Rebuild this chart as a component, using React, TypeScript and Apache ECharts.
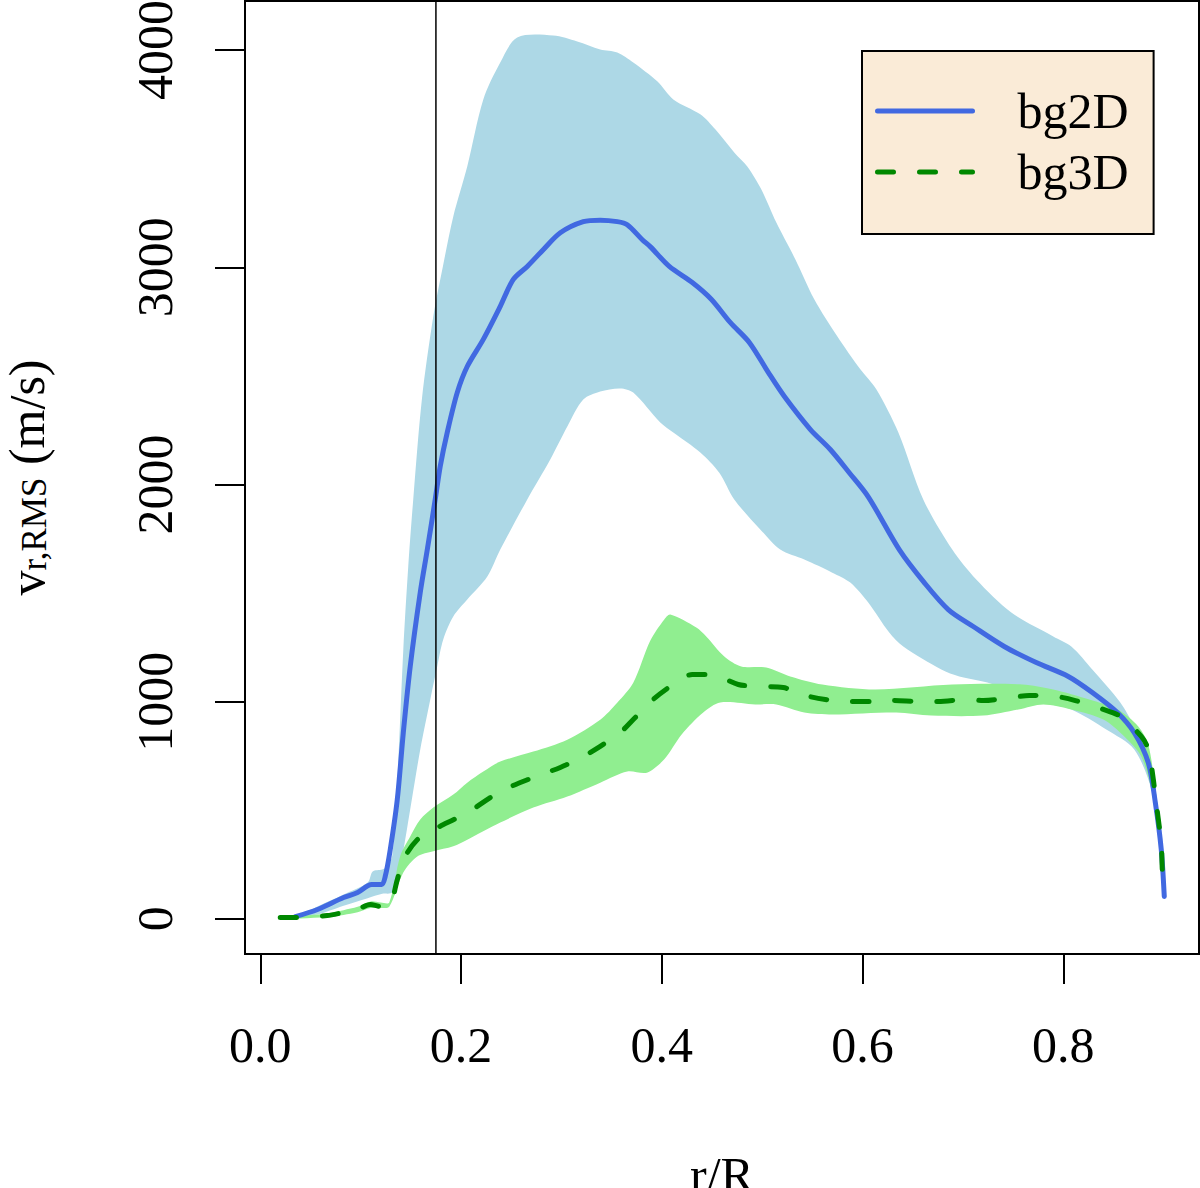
import React, { useEffect, useRef } from 'react';
import * as echarts from 'echarts';

const FONT = 'Liberation Serif';

// bg2D mean profile
const mean2DX = [0.035, 0.057, 0.083, 0.097, 0.111, 0.121, 0.1245, 0.1295, 0.1365, 0.1425, 0.1494, 0.1594, 0.1664, 0.1743, 0.1793, 0.1863, 0.1963, 0.2062, 0.2222, 0.2391, 0.2521, 0.266, 0.2819, 0.2989, 0.3218, 0.3387, 0.3557, 0.3656, 0.3806, 0.3885, 0.4075, 0.4304, 0.4493, 0.4682, 0.4872, 0.5061, 0.522, 0.5479, 0.5679, 0.5868, 0.6057, 0.6366, 0.6615, 0.6854, 0.7103, 0.7412, 0.7731, 0.805, 0.8289, 0.8538, 0.8707, 0.8847, 0.8917, 0.8976, 0.9006];
const mean2DY = [10, 43, 98, 121, 158, 158, 195, 319, 549, 857, 1162, 1503, 1700, 1931, 2084, 2240, 2424, 2543, 2668, 2820, 2944, 3004, 3081, 3159, 3210, 3217, 3210, 3196, 3127, 3095, 3004, 2930, 2853, 2746, 2654, 2516, 2406, 2254, 2161, 2054, 1943, 1700, 1548, 1424, 1346, 1254, 1180, 1116, 1042, 950, 857, 719, 535, 319, 103];

// bg2D spread (upper / lower edge)
const upper2DX = [0.035, 0.057, 0.083, 0.107, 0.112, 0.1215, 0.1265, 0.1315, 0.1365, 0.1425, 0.1474, 0.1524, 0.161, 0.1724, 0.182, 0.1923, 0.2062, 0.2222, 0.2391, 0.256, 0.2919, 0.3158, 0.3387, 0.3557, 0.3716, 0.3955, 0.4115, 0.4384, 0.4533, 0.4722, 0.4852, 0.4991, 0.514, 0.533, 0.5519, 0.5748, 0.5978, 0.6137, 0.6356, 0.6605, 0.6894, 0.7133, 0.7482, 0.79, 0.808, 0.8289, 0.8568, 0.8707, 0.8817, 0.8917, 0.8976, 0.9006];
const upper2DY = [10, 57, 112, 167, 218, 227, 241, 290, 627, 1239, 1620, 1931, 2391, 2774, 3005, 3234, 3464, 3773, 3943, 4058, 4067, 4040, 4003, 3989, 3943, 3856, 3773, 3704, 3635, 3529, 3464, 3359, 3207, 3037, 2853, 2682, 2530, 2438, 2240, 1931, 1700, 1562, 1410, 1300, 1254, 1148, 996, 886, 780, 570, 335, 103];
const lower2DX = [0.035, 0.057, 0.083, 0.107, 0.1215, 0.1315, 0.1395, 0.1494, 0.1594, 0.1694, 0.1763, 0.1823, 0.1923, 0.2062, 0.2262, 0.2391, 0.266, 0.2889, 0.3059, 0.3218, 0.3387, 0.3587, 0.3716, 0.3985, 0.4115, 0.4384, 0.4573, 0.4722, 0.4981, 0.518, 0.542, 0.5699, 0.5878, 0.6057, 0.6266, 0.6406, 0.6785, 0.6964, 0.7243, 0.7801, 0.808, 0.8428, 0.8707, 0.8887, 0.8976, 0.9006];
const lower2DY = [10, 20, 60, 95, 115, 122, 241, 504, 780, 1010, 1162, 1286, 1392, 1470, 1576, 1700, 1931, 2115, 2267, 2391, 2428, 2442, 2423, 2285, 2239, 2147, 2054, 1931, 1793, 1700, 1654, 1594, 1548, 1456, 1318, 1254, 1148, 1116, 1088, 996, 964, 872, 780, 580, 300, 103];

// bg3D mean profile
const mean3DX = [0.0199, 0.0398, 0.0667, 0.0827, 0.0966, 0.1096, 0.1195, 0.1285, 0.1365, 0.1425, 0.1564, 0.1724, 0.2062, 0.2391, 0.272, 0.2989, 0.3218, 0.3387, 0.3587, 0.3716, 0.3915, 0.4085, 0.4304, 0.4483, 0.4762, 0.4932, 0.521, 0.539, 0.5629, 0.5838, 0.6127, 0.6296, 0.6575, 0.6755, 0.7034, 0.7203, 0.7482, 0.7661, 0.794, 0.812, 0.8399, 0.8568, 0.8777, 0.8847, 0.8897, 0.8917, 0.8956, 0.8976, 0.8986, 0.9];
const mean3DY = [6, 6, 15, 29, 43, 66, 57, 61, 180, 272, 364, 410, 489, 586, 651, 697, 748, 794, 858, 918, 1010, 1070, 1125, 1125, 1079, 1070, 1065, 1033, 1010, 1001, 1001, 1005, 1001, 1001, 1010, 1005, 1019, 1028, 1023, 1005, 964, 932, 840, 780, 642, 564, 426, 352, 228, 130];

// bg3D spread (upper / lower edge)
const upper3DX = [0.0199, 0.04, 0.067, 0.083, 0.097, 0.11, 0.12, 0.1285, 0.1395, 0.1494, 0.1594, 0.1724, 0.1923, 0.2062, 0.2222, 0.2391, 0.272, 0.3059, 0.3387, 0.3556, 0.3716, 0.3885, 0.4025, 0.4085, 0.4344, 0.4443, 0.4623, 0.4792, 0.5041, 0.528, 0.5599, 0.6127, 0.6894, 0.7592, 0.79, 0.8259, 0.8538, 0.8747, 0.8847, 0.8917, 0.8976, 0.9];
const upper3DY = [6, 15, 25, 40, 55, 80, 75, 75, 290, 379, 457, 512, 572, 627, 678, 724, 770, 825, 917, 995, 1087, 1280, 1378, 1401, 1341, 1300, 1208, 1162, 1157, 1116, 1079, 1056, 1079, 1079, 1056, 1010, 965, 886, 800, 600, 380, 130];
const lower3DX = [0.0199, 0.04, 0.067, 0.083, 0.097, 0.11, 0.12, 0.1285, 0.1425, 0.1564, 0.1724, 0.1923, 0.2062, 0.2391, 0.272, 0.3059, 0.3387, 0.3656, 0.3852, 0.4025, 0.42, 0.4413, 0.4583, 0.4932, 0.5141, 0.542, 0.5699, 0.6336, 0.6685, 0.7203, 0.7552, 0.7801, 0.808, 0.8399, 0.8608, 0.8777, 0.8897, 0.8956, 0.9];
const lower3DY = [6, 2, 8, 18, 30, 50, 50, 55, 213, 287, 311, 334, 364, 443, 512, 563, 627, 678, 673, 735, 850, 950, 996, 987, 987, 950, 941, 950, 936, 936, 964, 987, 964, 918, 840, 747, 560, 380, 130];

const xTicks = [0, 0.2, 0.4, 0.6, 0.8];
const yTicks = [0, 1000, 2000, 3000, 4000];
const xRange = [-0.0152, 0.9352];
const yRange = [-162, 4226];
const boundaryR = 0.175;

const zip = (xs: number[], ys: number[]) => xs.map((x, i) => [x, ys[i]]);

// polygon between an upper and a lower edge, mapped through the axes
const bandRenderer = (ux: number[], uy: number[], lx: number[], ly: number[], fill: string) =>
  (_params: any, api: any) => {
    const points: number[][] = [];
    ux.forEach((x, i) => points.push(api.coord([x, uy[i]])));
    for (let i = lx.length - 1; i >= 0; i--) points.push(api.coord([lx[i], ly[i]]));
    return { type: 'polygon', shape: { points, smooth: 0.3 }, style: { fill }, silent: true };
  };

const App: React.FC = () => {
  const chartRef = useRef<HTMLDivElement>(null);

  useEffect(() => {
    if (!chartRef.current) return;
    const chart = echarts.init(chartRef.current, undefined, { renderer: 'svg' });

    const labelStyle = { color: '#000', fontFamily: FONT, fontSize: 50, lineHeight: 50 };

    const option: any = {
      animation: false,
      backgroundColor: '#fff',
      grid: {
        left: 245,
        right: 1,
        top: 1,
        bottom: 234,
        show: true,
        borderColor: '#000',
        borderWidth: 2,
        backgroundColor: 'transparent',
        containLabel: false,
        outerBoundsMode: 'none',
      },
      legend: {
        data: ['bg2D', 'bg3D'],
        orient: 'vertical',
        left: 862,
        top: 51,
        itemWidth: 95,
        itemHeight: 20,
        itemGap: 11,
        padding: [35, 25, 37, 13],
        backgroundColor: '#FAEBD7',
        borderColor: '#000',
        borderWidth: 2,
        borderRadius: 0,
        itemStyle: { opacity: 0, borderWidth: 0 },
        lineStyle: { width: 5 },
        textStyle: { ...labelStyle, padding: [0, 0, 0, 40] },
      },
      xAxis: {
        type: 'value',
        min: xRange[0],
        max: xRange[1],
        name: 'r/R',
        nameLocation: 'middle',
        nameGap: 196,
        nameMoveOverlap: false,
        nameTextStyle: labelStyle,
        axisLine: { show: false, onZero: false },
        splitLine: { show: false },
        axisTick: {
          show: true,
          customValues: xTicks,
          length: 30,
          lineStyle: { color: '#000', width: 2 },
        },
        axisLabel: {
          customValues: xTicks,
          margin: 66,
          formatter: (v: number) => v.toFixed(1),
          ...labelStyle,
        },
      },
      yAxis: {
        type: 'value',
        min: yRange[0],
        max: yRange[1],
        name: '{v|v}{s|r,RMS}{m| (m/s)}',
        nameLocation: 'middle',
        nameRotate: 90,
        nameGap: 193,
        nameMoveOverlap: false,
        nameTextStyle: {
          ...labelStyle,
          rich: {
            v: { fontFamily: FONT, fontSize: 50, lineHeight: 50, color: '#000', verticalAlign: 'bottom' },
            s: { fontFamily: FONT, fontSize: 35, lineHeight: 26, color: '#000', verticalAlign: 'bottom' },
            m: { fontFamily: FONT, fontSize: 50, lineHeight: 50, color: '#000', verticalAlign: 'bottom' },
          },
        },
        axisLine: { show: false, onZero: false },
        splitLine: { show: false },
        axisTick: {
          show: true,
          customValues: yTicks,
          length: 30,
          lineStyle: { color: '#000', width: 2 },
        },
        axisLabel: {
          customValues: yTicks,
          rotate: 90,
          margin: 65,
          formatter: (v: number) => String(v),
          ...labelStyle,
        },
      },
      series: [
        {
          type: 'custom',
          name: 'band2D',
          renderItem: bandRenderer(upper2DX, upper2DY, lower2DX, lower2DY, '#ADD8E6'),
          data: [[0, 0]],
          silent: true,
          z: 1,
        },
        {
          type: 'custom',
          name: 'band3D',
          renderItem: bandRenderer(upper3DX, upper3DY, lower3DX, lower3DY, '#90EE90'),
          data: [[0, 0]],
          silent: true,
          z: 2,
        },
        {
          type: 'line',
          name: 'bg2D',
          data: zip(mean2DX, mean2DY),
          symbol: 'none',
          smooth: 0.3,
          itemStyle: { color: '#4169E1' },
          lineStyle: { color: '#4169E1', width: 5, cap: 'round', join: 'round' },
          z: 3,
        },
        {
          type: 'line',
          name: 'bg3D',
          data: zip(mean3DX, mean3DY),
          symbol: 'none',
          smooth: 0.3,
          itemStyle: { color: '#008800' },
          lineStyle: { color: '#008800', width: 5, type: [16, 26], cap: 'round', join: 'round' },
          z: 4,
        },
        {
          // vertical reference line at r/R = 0.175
          type: 'line',
          name: 'boundary',
          data: [[boundaryR, yRange[0]], [boundaryR, yRange[1]]],
          symbol: 'none',
          silent: true,
          lineStyle: { color: '#000', width: 1.5 },
          z: 5,
        },
      ],
    };

    chart.setOption(option);

    return () => {
      chart.dispose();
    };
  }, []);

  return (
    <div
      ref={chartRef}
      style={{ position: 'absolute', left: 0, top: 0, width: 1200, height: 1188 }}
    />
  );
};

export default App;
